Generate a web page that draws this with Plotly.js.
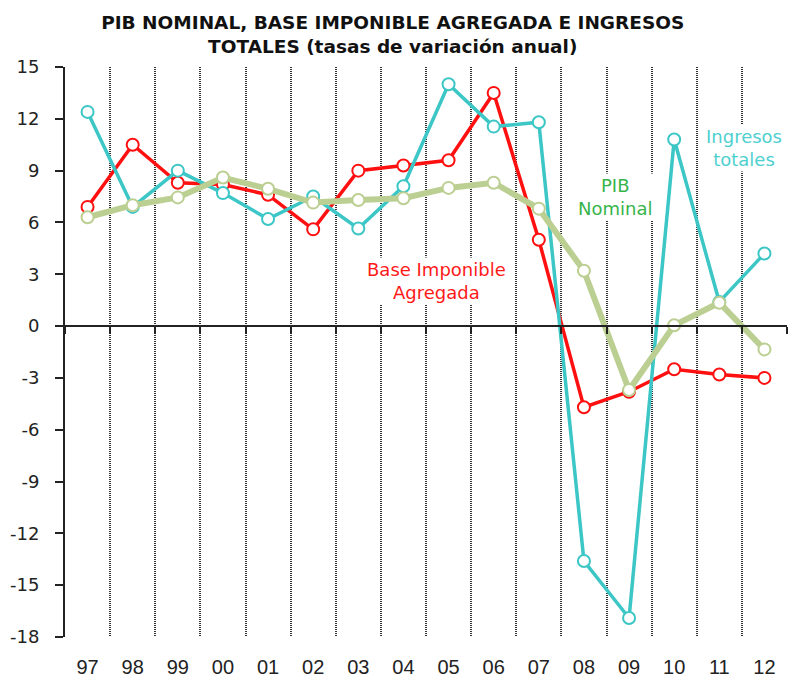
<!DOCTYPE html>
<html>
<head>
<meta charset="utf-8">
<script src="https://cdn.plot.ly/plotly-3.0.1.min.js"></script>
<style>html,body{margin:0;padding:0;background:#fff;}#chart{width:795px;height:682px;}</style>
</head>
<body>
<div id="chart"></div>
<script>
const years = ['97','98','99','00','01','02','03','04','05','06','07','08','09','10','11','12'];
const baseImponible = [6.9, 10.5, 8.3, 8.2, 7.6, 5.6, 9.0, 9.3, 9.6, 13.5, 5.0, -4.7, -3.8, -2.5, -2.8, -3.0];
const ingresosTotales = [12.4, 6.9, 9.0, 7.7, 6.2, 7.5, 5.65, 8.1, 14.0, 11.55, 11.8, -13.6, -16.9, 10.8, 1.4, 4.2];
const pibNominal = [6.3, 7.0, 7.45, 8.6, 7.95, 7.15, 7.3, 7.4, 8.0, 8.3, 6.8, 3.2, -3.7, 0.05, 1.35, -1.35];
const yTickVals = [15, 12, 9, 6, 3, 0, -3, -6, -9, -12, -15, -18];
const yTickText = ['15', '12', '9', '6', '3', '0', '-3', '-6', '-9', '-12', '-15', '-18'];
const yMin = -18, yMax = 15;

const RED = '#ff1010', CYAN = '#3cc6c6', GREEN = '#bccf92';

function series(y, color, width, name) {
  return {
    x: years, y: y, name: name, type: 'scatter', mode: 'lines+markers',
    line: {color: color, width: width},
    marker: {symbol: 'circle', size: 12, color: '#ffffff', line: {color: color, width: 2}},
    hoverinfo: 'skip'
  };
}

const data = [
  series(baseImponible, RED, 3.5, 'Base Imponible Agregada'),
  series(ingresosTotales, CYAN, 3.5, 'Ingresos totales'),
  series(pibNominal, GREEN, 6, 'PIB Nominal')
];

const labelFont = {family: 'DejaVu Sans, Verdana, sans-serif', size: 18};
const layout = {
  width: 795, height: 682,
  paper_bgcolor: '#ffffff', plot_bgcolor: '#ffffff',
  showlegend: false,
  margin: {l: 65, r: 8, t: 67, b: 45},
  title: {
    text: '<b>PIB NOMINAL, BASE IMPONIBLE AGREGADA E INGRESOS<br>TOTALES (tasas de variación anual)</b>',
    font: {family: 'DejaVu Sans, Verdana, sans-serif', size: 18.5, color: '#111'},
    x: 0.494, xanchor: 'center', y: 0.957, yanchor: 'top'
  },
  xaxis: {
    type: 'category', categoryorder: 'array', categoryarray: years,
    range: [-0.5, 15.5],
    tickson: 'boundaries',
    showgrid: true, griddash: '1px,1px', gridcolor: '#333', gridwidth: 2,
    anchor: 'free', position: (0 - yMin) / (yMax - yMin),
    showline: true, linecolor: '#222', linewidth: 2,
    ticks: 'outside', ticklen: 7, tickcolor: '#222', tickwidth: 2,
    ticklabelstandoff: 323,
    tickfont: {family: 'Liberation Sans, Arial, sans-serif', size: 20, color: '#222'},
    fixedrange: true
  },
  yaxis: {
    range: [yMin, yMax], tickmode: 'array', tickvals: yTickVals, ticktext: yTickText,
    showgrid: false, zeroline: false,
    showline: true, linecolor: '#222', linewidth: 2,
    ticks: 'outside', ticklen: 8, tickcolor: '#222', tickwidth: 2,
    ticklabelstandoff: 12,
    tickfont: {family: 'DejaVu Sans, Verdana, sans-serif', size: 18, color: '#222'},
    fixedrange: true
  },
  annotations: [
    {x: 7.73, y: 2.6, xref: 'x', yref: 'y', text: 'Base Imponible<br>Agregada', showarrow: false,
     font: Object.assign({}, labelFont, {color: '#ff1a1a'}), bgcolor: '#ffffff', align: 'center'},
    {x: 11.68, y: 7.5, xref: 'x', yref: 'y', text: 'PIB<br>Nominal', showarrow: false,
     font: Object.assign({}, labelFont, {color: '#38b44a'}), bgcolor: '#ffffff', align: 'center'},
    {x: 14.55, y: 10.3, xref: 'x', yref: 'y', text: 'Ingresos<br>totales', showarrow: false,
     font: Object.assign({}, labelFont, {color: '#4fd0d0'}), bgcolor: '#ffffff', align: 'center'}
  ]
};

Plotly.newPlot('chart', data, layout, {displayModeBar: false, staticPlot: true});
</script>
</body>
</html>
